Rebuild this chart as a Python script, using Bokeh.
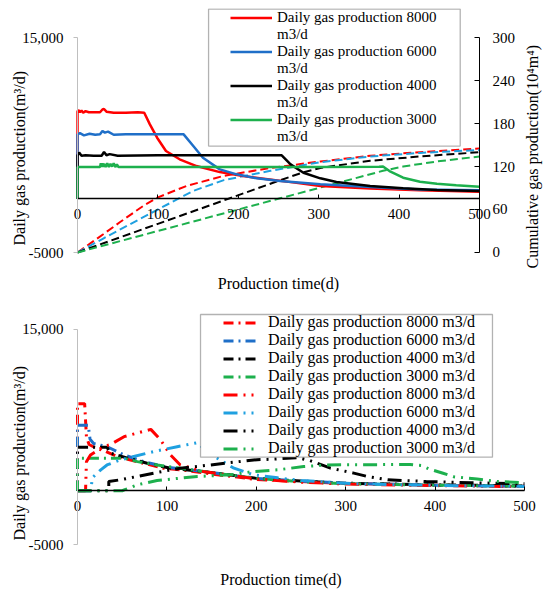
import math
from bokeh.plotting import figure
from bokeh.models import Range1d, LinearAxis, FixedTicker, Legend, LegendItem, BoxAnnotation, Title
from bokeh.layouts import column
from bokeh.embed import file_html
from bokeh.resources import INLINE
from bokeh.core.properties import value

# ---------------- data ----------------
rates = ["8000", "6000", "4000", "3000"]
x_ticks = [0, 100, 200, 300, 400, 500]
left_ticks = [-5000, 15000]
left_tick_labels = {15000: "15,000", -5000: "-5000"}
right_ticks = [0, 60, 120, 180, 240, 300]

# top chart: daily gas production (m3/d), solid
d8000_t = [0, 0, 1, 3, 5, 7, 10, 14, 20, 28, 31, 33, 36, 45, 60, 75, 83, 90, 99, 110, 127, 148, 177, 206, 239, 270, 302, 364, 426, 500]
d8000_v = [0, 8100, 8250, 8050, 8200, 8000, 8150, 8050, 8050, 8050, 8300, 8350, 8100, 8000, 8000, 8050, 8000, 6920, 5680, 4440, 3670, 3040, 2480, 2110, 1800, 1500, 1180, 965, 780, 650]
d6000_t = [0, 0, 3, 8, 15, 22, 28, 31, 34, 38, 45, 60, 90, 120, 132, 144, 156, 177, 198, 223, 252, 302, 364, 426, 500]
d6000_v = [0, 5990, 6100, 5900, 6050, 5950, 6000, 6300, 6150, 6250, 5950, 6000, 6000, 6000, 5990, 4900, 3815, 2735, 2270, 1900, 1650, 1340, 1090, 870, 780]
d4000_t = [0, 0, 2, 5, 10, 20, 30, 33, 36, 40, 50, 100, 200, 254, 265, 281, 302, 322, 364, 405, 447, 500]
d4000_v = [0, 4040, 4300, 4000, 4050, 4000, 4000, 4350, 4050, 4150, 4000, 4040, 4040, 4040, 3200, 2420, 1900, 1550, 1180, 970, 810, 715]
d3000_t = [0, 0, 10, 28, 29, 30, 31, 32, 33, 35, 37, 39, 41, 43, 45, 47, 49, 51, 60, 150, 300, 375, 380, 388, 405, 426, 447, 471, 500]
d3000_v = [0, 2950, 2950, 2950, 3300, 2950, 3300, 2950, 3250, 2950, 3300, 2950, 3250, 3000, 3300, 2950, 3200, 2950, 2950, 2950, 2950, 2980, 3000, 2580, 1955, 1580, 1400, 1245, 1120]

# top chart: cumulative gas production (10^4 m3), dashed
c8000_t = [0, 32, 53, 83, 100, 136, 182, 240, 302, 364, 426, 500]
c8000_v = [0, 25.5, 42.5, 66, 77, 93, 107, 118, 127, 135, 140, 145]
c6000_t = [0, 32, 100, 132, 144, 182, 240, 302, 364, 426, 500]
c6000_v = [0, 19.5, 60, 79, 86, 101, 114, 126, 134, 139, 143]
c4000_t = [0, 100, 182, 254, 281, 302, 364, 426, 500]
c4000_v = [0, 40, 72.7, 101.6, 112, 118, 128, 134, 140]
c3000_t = [0, 100, 252, 380, 405, 447, 500]
c3000_v = [0, 30, 75.6, 114, 120, 127, 134]

# bottom chart: series A (dash-dot)
a8000_t = [0, 0, 8, 10, 13, 20, 30, 44, 67, 96, 115, 149, 200, 250, 300, 400, 500]
a8000_v = [0, 8100, 8100, 5000, 4300, 4000, 3700, 3200, 2700, 2100, 1950, 1570, 1050, 850, 680, 520, 420]
a6000_t = [0, 0, 12, 14, 18, 33, 52, 74, 100, 141, 200, 250, 300, 400, 500]
a6000_v = [0, 6100, 6100, 4800, 4400, 4100, 3330, 2710, 2190, 1790, 1150, 900, 700, 520, 420]
a4000_t = [0, 0, 33, 37, 56, 78, 104, 141, 200, 250, 300, 400, 500]
a4000_v = [0, 4040, 4040, 3490, 3030, 2560, 2100, 1790, 1150, 900, 700, 550, 450]
a3000_t = [0, 0, 52, 67, 89, 115, 149, 200, 250, 300, 400, 500]
a3000_v = [0, 3030, 3030, 2710, 2400, 2100, 1700, 1150, 850, 650, 520, 420]
# bottom chart: series B (dash-dot-dot)
b8000_t = [0, 9, 10, 14.5, 29, 37, 52, 82, 93, 104, 115, 140, 200, 250, 300, 400, 500]
b8000_v = [0, 0, 2700, 3330, 4100, 4300, 5030, 5710, 4720, 3330, 2400, 1800, 1100, 800, 620, 480, 380]
b6000_t = [0, 15, 16.5, 26, 33, 48, 85, 111.5, 134, 145, 153, 175, 197, 224, 250, 310, 400, 500]
b6000_v = [0, 0, 1200, 1945, 2400, 2870, 3640, 4100, 4470, 3640, 3180, 2100, 1480, 1200, 950, 650, 500, 400]
b4000_t = [0, 35, 35, 48, 67, 89, 115, 149, 171, 197, 221, 246, 260, 283, 309, 324, 347, 390, 440, 500]
b4000_v = [0, 0, 860, 1020, 1330, 1700, 2100, 2400, 2620, 2870, 2950, 3080, 2800, 2100, 1640, 1330, 1020, 860, 740, 650]
b3000_t = [0, 50, 53, 67, 89, 104, 134, 171, 197, 224, 253, 279, 324, 372, 385, 393, 408, 421, 447, 471, 500]
b3000_v = [0, 0, 100, 555, 955, 1080, 1330, 1480, 1790, 1945, 2250, 2400, 2420, 2450, 2350, 2030, 1650, 1300, 1100, 850, 750]

# ---------------- style ----------------
FONT = "Liberation Serif"
RED, BLUE, SKY, BLACK, GREEN = "#FF0000", "#1F6FC8", "#1FA0E0", "#000000", "#1DB04D"
solid_colors = [RED, BLUE, BLACK, GREEN]
cum_colors = [RED, SKY, BLACK, GREEN]
a_colors = [RED, BLUE, BLACK, GREEN]
b_colors = [RED, SKY, BLACK, GREEN]
NBSP = "\u00a0"


def make_fig(height, x_lo, x_hi, mb_top, y_lo, y_hi, xlabel_pad, xlabel_standoff, ylabel_offset):
    p = figure(width=550, height=height, x_range=Range1d(x_lo, x_hi), y_range=Range1d(y_lo, y_hi),
               output_backend="svg", toolbar_location=None,
               min_border_left=18, min_border_right=0,
               min_border_top=mb_top, min_border_bottom=0)
    p.grid.visible = False
    p.outline_line_color = None
    p.background_fill_color = "white"
    p.border_fill_color = "white"
    ya = p.yaxis[0]
    ya.fixed_location = 0
    ya.bounds = (-5000, 15000)
    ya.ticker = FixedTicker(ticks=left_ticks)
    ya.major_label_overrides = left_tick_labels
    ya.axis_line_color = "#BFBFBF"
    ya.major_tick_line_color = "#BFBFBF"
    ya.minor_tick_line_color = None
    ya.major_tick_out = 4
    ya.major_tick_in = 0
    ya.major_label_text_font = FONT
    ya.major_label_text_font_size = "15px"
    ya.major_label_text_color = "black"
    ya.major_label_standoff = 10

    yt = Title(text="Daily gas production(m³/d)", align="left", vertical_align="bottom",
               offset=ylabel_offset, standoff=-19, text_font=FONT, text_font_size="16px",
               text_font_style="normal", text_color="black")
    p.add_layout(yt, "left")

    xa = p.xaxis[0]
    xa.fixed_location = 0
    xa.bounds = (0, 500)
    xa.ticker = FixedTicker(ticks=x_ticks)
    xa.axis_line_color = "black"
    xa.axis_line_width = 1.5
    xa.major_tick_line_color = "black"
    xa.minor_tick_line_color = None
    xa.major_tick_in = 4
    xa.major_tick_out = 0
    xa.major_label_text_font = FONT
    xa.major_label_text_font_size = "15px"
    xa.major_label_text_color = "black"
    xa.major_label_standoff = 10
    xa.axis_label = "Production time(d)" + NBSP * xlabel_pad
    xa.axis_label_text_font = FONT
    xa.axis_label_text_font_size = "16px"
    xa.axis_label_text_font_style = "normal"
    xa.axis_label_text_color = "black"
    xa.axis_label_standoff = xlabel_standoff
    return p


# ---------------- top figure ----------------
p1 = make_fig(300, -73.4, 588.3, 8, -9465, 17698, 0, 53, 55)
p1.extra_y_ranges = {"cum": Range1d(-67, 340.5)}
ra = LinearAxis(y_range_name="cum", ticker=FixedTicker(ticks=right_ticks), bounds=(0, 300),
                fixed_location=500)
ra.axis_line_color = "black"
ra.major_tick_line_color = "black"
ra.minor_tick_line_color = None
ra.major_tick_in = 5
ra.major_tick_out = 0
ra.major_label_text_font = FONT
ra.major_label_text_font_size = "15px"
ra.major_label_text_color = "black"
ra.major_label_standoff = 13
p1.add_layout(ra, "right")

# label-only companion axis; its (invisible) span sets where the rotated title starts
rl = LinearAxis(y_range_name="cum", ticker=FixedTicker(ticks=[]), bounds=(-44.6, 0),
                fixed_location=500, axis_label="Cumulative gas production(10⁴m⁴)")
rl.axis_line_color = None
rl.major_tick_line_color = None
rl.minor_tick_line_color = None
rl.major_tick_out = 0
rl.minor_tick_out = 0
rl.major_tick_in = 0
rl.minor_tick_in = 0
rl.axis_label_text_font = FONT
rl.axis_label_text_font_size = "16px"
rl.axis_label_text_font_style = "normal"
rl.axis_label_text_color = "black"
rl.axis_label_standoff = 53
rl.axis_label_orientation = math.pi / 2
p1.add_layout(rl, "right")

cum_series = [(c8000_t, c8000_v), (c6000_t, c6000_v), (c4000_t, c4000_v), (c3000_t, c3000_v)]
for (t, v), c in zip(cum_series, cum_colors):
    p1.line(t, v, color=c, line_width=2, line_dash="8 4", y_range_name="cum")

daily_series = [(d8000_t, d8000_v), (d6000_t, d6000_v), (d4000_t, d4000_v), (d3000_t, d3000_v)]
solid_r = []
for (t, v), c in zip(daily_series, solid_colors):
    solid_r.append(p1.line(t, v, color=c, line_width=2.5))

dummy1 = p1.line(x=[], y=[], line_alpha=0)

box1 = BoxAnnotation(left=163, right=476, top=17650, bottom=4900,
                     fill_color="white", fill_alpha=1, line_color="black", line_width=1.3)
p1.add_layout(box1)
items1 = []
for r, rate in zip(solid_r, rates):
    items1.append(LegendItem(label=value(f"Daily gas production {rate}"), renderers=[r]))
    items1.append(LegendItem(label=value("m3/d"), renderers=[dummy1]))
# legend anchored by its bottom-left corner (pixels from the frame's bottom-left)
leg1 = Legend(items=items1, location=(212, 155), margin=0, padding=0, spacing=0,
              glyph_width=42, glyph_height=17, label_height=17, label_standoff=5,
              label_text_font=FONT, label_text_font_size="15px", label_text_color="black",
              border_line_color=None, background_fill_alpha=0)
p1.add_layout(leg1)

# ---------------- bottom figure ----------------
p2 = make_fig(296, -66.0, 529.1, 12, -9837, 16581, 10, 57, 56)
a_series = [(a8000_t, a8000_v), (a6000_t, a6000_v), (a4000_t, a4000_v), (a3000_t, a3000_v)]
b_series = [(b8000_t, b8000_v), (b6000_t, b6000_v), (b4000_t, b4000_v), (b3000_t, b3000_v)]
a_r, b_r = [], []
for (t, v), c in zip(a_series, a_colors):
    a_r.append(p2.line(t, v, color=c, line_width=3, line_dash="10 5 2 5"))
for (t, v), c in zip(b_series, b_colors):
    b_r.append(p2.line(t, v, color=c, line_width=3, line_dash="14 6 2 6 2 6"))

box2 = BoxAnnotation(left=137.6, right=464.2, top=16395, bottom=3121,
                     fill_color="white", fill_alpha=1, line_color="black", line_width=1.3)
p2.add_layout(box2)
items2 = []
for r, rate in zip(a_r + b_r, rates + rates):
    items2.append(LegendItem(label=value(f"Daily gas production {rate} m3/d"), renderers=[r]))
leg2 = Legend(items=items2, location=(205, 139), margin=0, padding=0, spacing=0,
              glyph_width=35, glyph_height=17, label_height=17, label_standoff=10,
              label_text_font=FONT, label_text_font_size="16px", label_text_color="black",
              border_line_color=None, background_fill_alpha=0)
p2.add_layout(leg2)

layout = column(p1, p2)
open("out.html", "w").write(file_html(layout, INLINE))
